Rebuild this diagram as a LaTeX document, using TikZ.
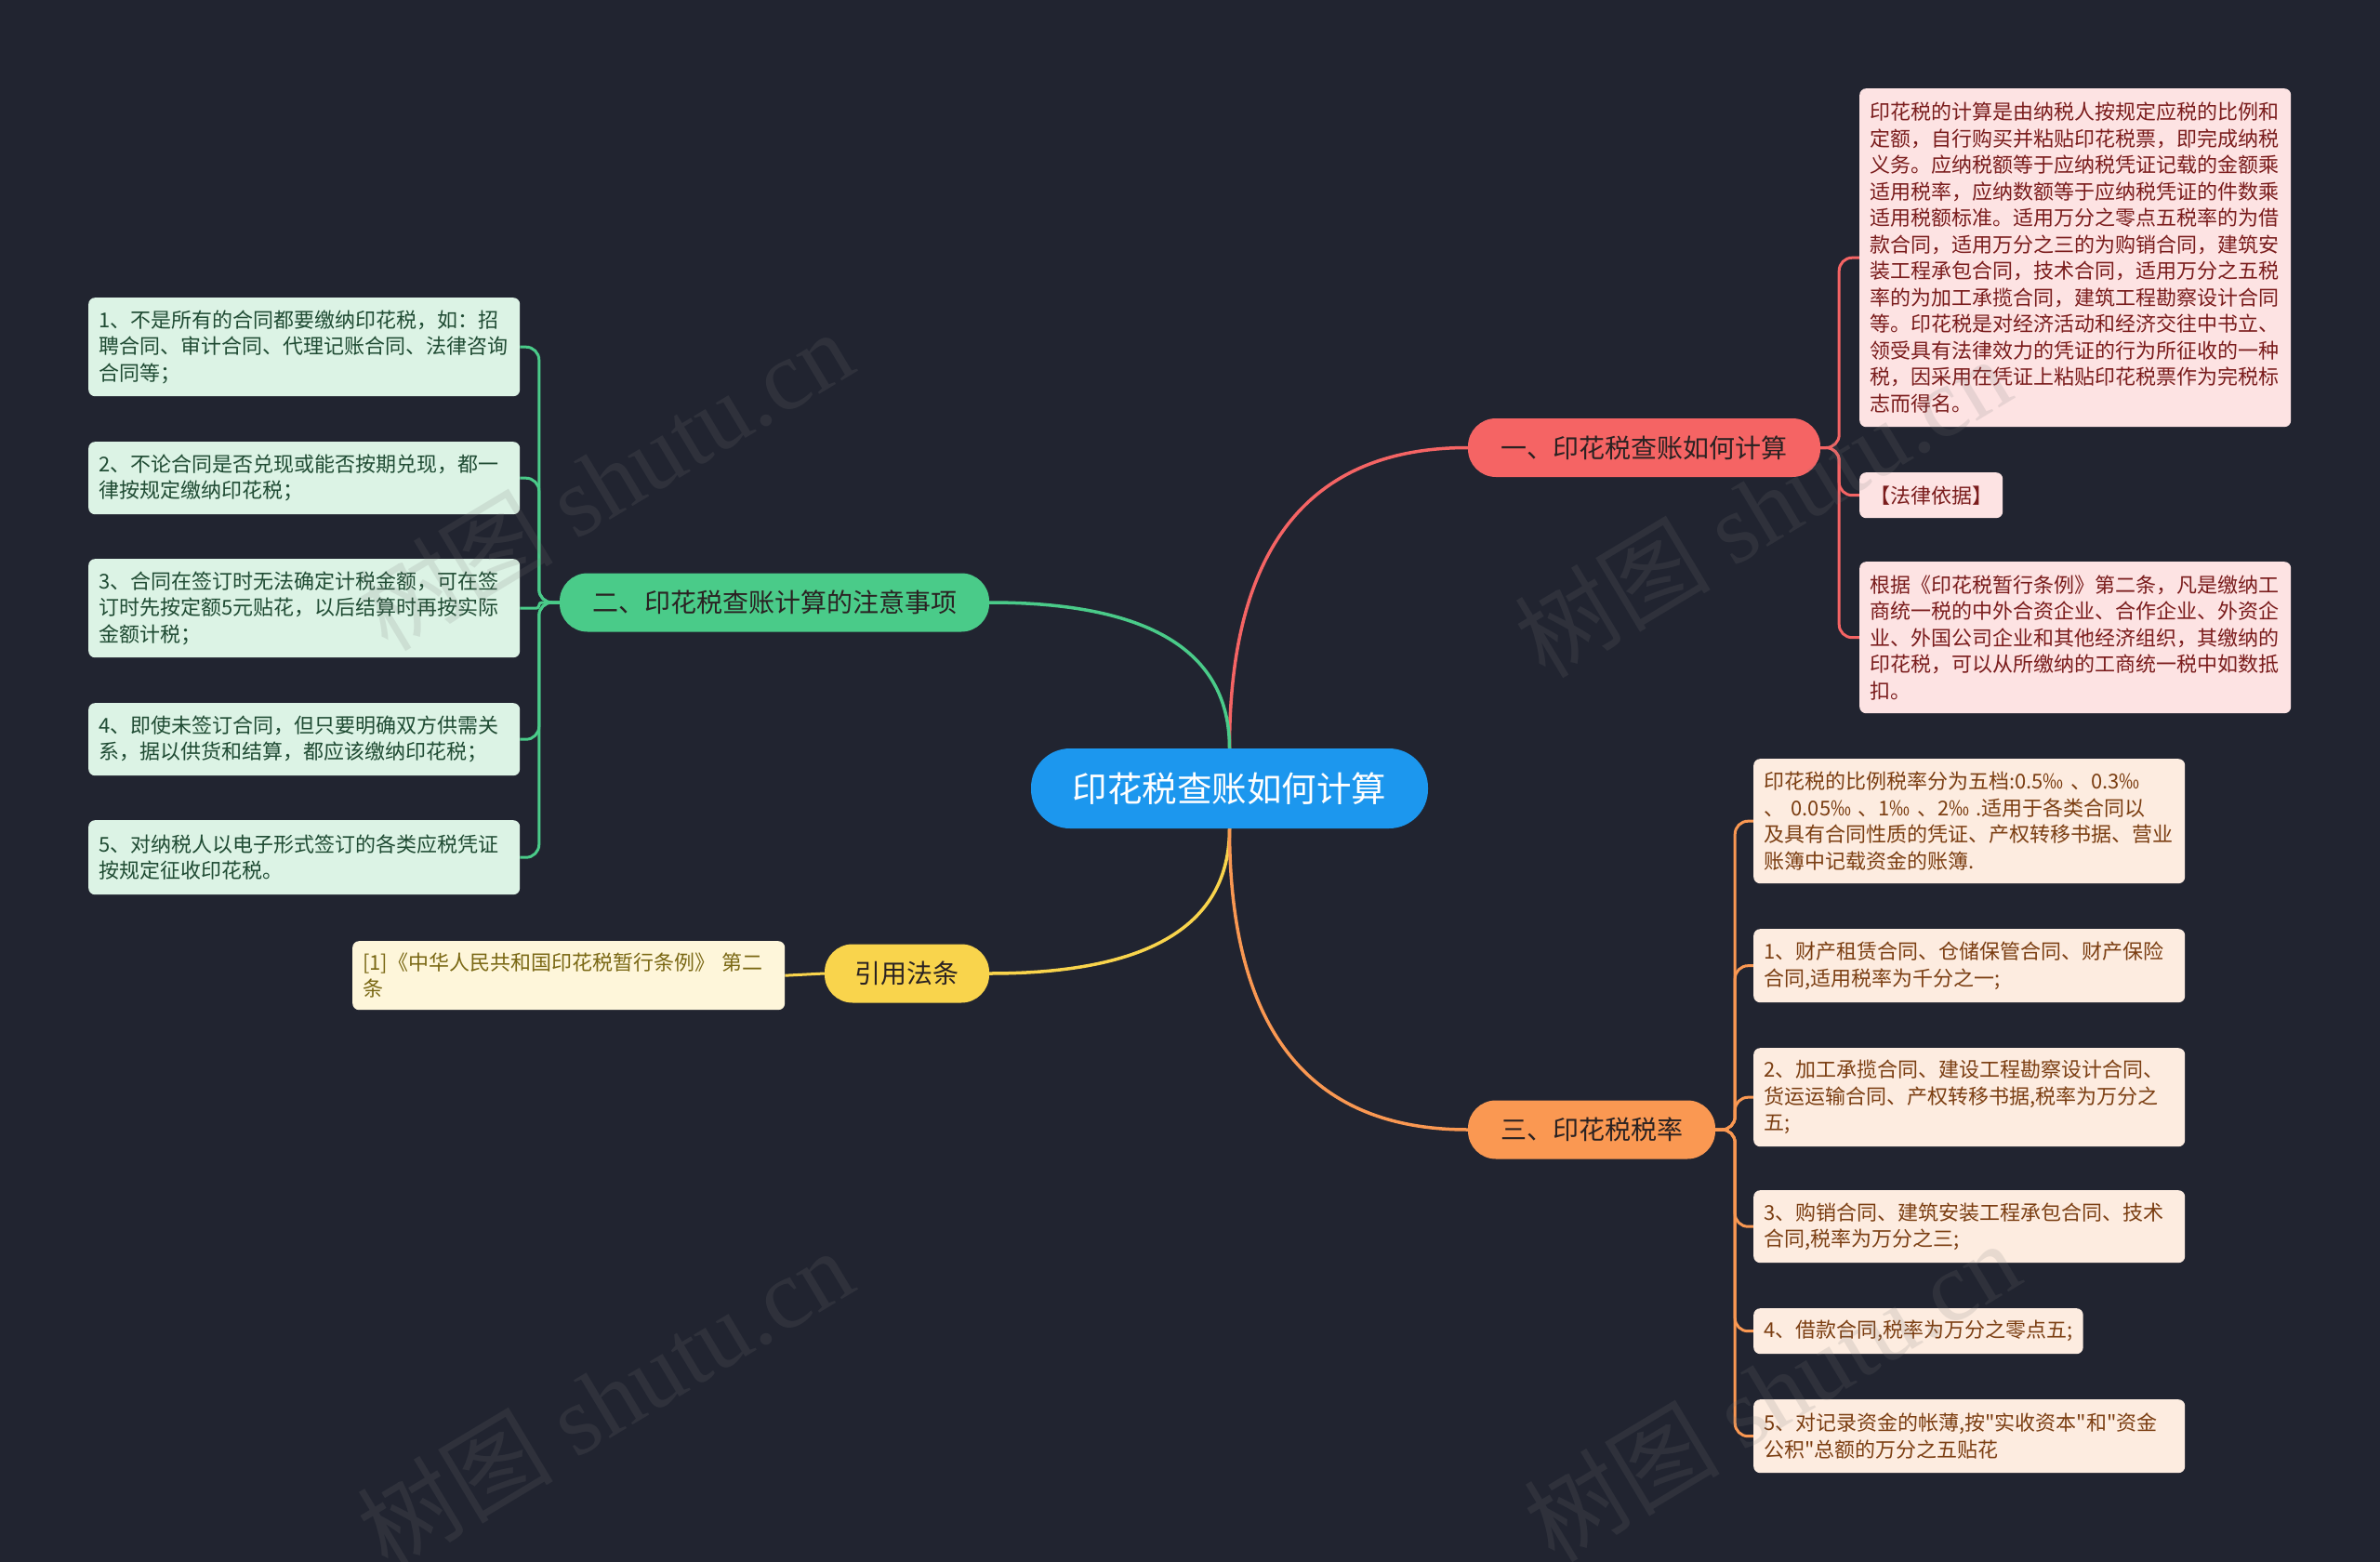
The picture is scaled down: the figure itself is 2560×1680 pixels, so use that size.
\documentclass[tikz,border=0pt]{standalone}
\usepackage{fontspec}
\setmainfont{Noto Sans CJK SC}
\newfontfamily\cjkf{Noto Sans CJK SC}
\newfontfamily\wmserif{Liberation Serif}
\usetikzlibrary{calc}
\definecolor{bgc}{HTML}{212430}
\definecolor{rootblue}{HTML}{1C97EE}
\definecolor{cred}{HTML}{F56464}
\definecolor{cgreen}{HTML}{4ACB89}
\definecolor{cyellow}{HTML}{F9D44C}
\definecolor{corange}{HTML}{FA9852}
\definecolor{rleaf}{HTML}{FDE3E3}
\definecolor{rtext}{HTML}{7A1C1C}
\definecolor{oleaf}{HTML}{FDECE0}
\definecolor{otext}{HTML}{7B3E12}
\definecolor{gleaf}{HTML}{DCF3E5}
\definecolor{gtext}{HTML}{1F4B33}
\definecolor{yleaf}{HTML}{FEF6DA}
\definecolor{ytext}{HTML}{7A6814}
\definecolor{btext}{HTML}{2A2222}
\definecolor{wmc}{HTML}{7A7A7A}
\pgfdeclarelayer{back}
\pgfsetlayers{back,main}
\begin{document}
\begin{tikzpicture}[x=1pt,y=-1pt,
  pill/.style={rectangle, rounded corners=30pt, minimum height=63pt, inner sep=0pt,
    font=\cjkf\fontsize{28pt}{34pt}\selectfont, text=btext},
  leaf/.style={rectangle, rounded corners=7pt, anchor=north west, align=left,
    inner xsep=11pt, inner ysep=0pt, font=\cjkf\fontsize{22pt}{28.5pt}\selectfont},
  wide/.style={text width=442pt},
  redleaf/.style={leaf, fill=rleaf, text=rtext},
  orangeleaf/.style={leaf, fill=oleaf, text=otext},
  greenleaf/.style={leaf, fill=gleaf, text=gtext},
  yellowleaf/.style={leaf, fill=yleaf, text=ytext},
  mainline/.style={line width=3.5pt},
  conn/.style={line width=3pt, rounded corners=14pt},
  wm/.style={text=wmc, opacity=0.16, font=\cjkf\fontsize{106pt}{110pt}\selectfont}
]
\begin{pgfonlayer}{back}
\fill[bgc] (0,0) rectangle (2560,1680);
\end{pgfonlayer}
\useasboundingbox (0,0) rectangle (2560,1680);

% central and branch nodes
\node[pill, fill=rootblue, minimum width=427pt, minimum height=86pt, rounded corners=42pt,
  font=\cjkf\fontsize{37.5pt}{44pt}\selectfont, text=white] (root) at (1322.5,848) {印花税查账如何计算};
\node[pill, fill=cred, minimum width=379pt] (R) at (1768.5,481.5) {一、印花税查账如何计算};
\node[pill, fill=cgreen, minimum width=462pt] (G) at (833,648) {二、印花税查账计算的注意事项};
\node[pill, fill=cyellow, minimum width=177pt] (Y) at (975.5,1047) {引用法条};
\node[pill, fill=corange, minimum width=266pt] (O) at (1712,1215) {三、印花税税率};

% red leaves
\node[redleaf, wide, minimum height=364pt] (R1) at (2000,95) {印花税的计算是由纳税人按规定应税的比例和\\定额，自行购买并粘贴印花税票，即完成纳税\\义务。应纳税额等于应纳税凭证记载的金额乘\\适用税率，应纳数额等于应纳税凭证的件数乘\\适用税额标准。适用万分之零点五税率的为借\\款合同，适用万分之三的为购销合同，建筑安\\装工程承包合同，技术合同，适用万分之五税\\率的为加工承揽合同，建筑工程勘察设计合同\\等。印花税是对经济活动和经济交往中书立、\\领受具有法律效力的凭证的行为所征收的一种\\税，因采用在凭证上粘贴印花税票作为完税标\\志而得名。};
\node[redleaf, minimum height=49pt] (R2) at (2000,508) {【法律依据】};
\node[redleaf, wide, minimum height=163pt] (R3) at (2000,604) {根据《印花税暂行条例》第二条，凡是缴纳工\\商统一税的中外合资企业、合作企业、外资企\\业、外国公司企业和其他经济组织，其缴纳的\\印花税，可以从所缴纳的工商统一税中如数抵\\扣。};

% orange leaves
\node[orangeleaf, wide, minimum height=134pt] (O0) at (1886,816) {印花税的比例税率分为五档:0.5‰ 、0.3‰\\、 0.05‰ 、1‰ 、2‰ .适用于各类合同以\\及具有合同性质的凭证、产权转移书据、营业\\账簿中记载资金的账簿.};
\node[orangeleaf, wide, minimum height=79pt] (O1) at (1886,999) {1、财产租赁合同、仓储保管合同、财产保险\\合同,适用税率为千分之一;};
\node[orangeleaf, wide, minimum height=106pt] (O2) at (1886,1127) {2、加工承揽合同、建设工程勘察设计合同、\\货运运输合同、产权转移书据,税率为万分之\\五;};
\node[orangeleaf, wide, minimum height=78pt] (O3) at (1886,1280) {3、购销合同、建筑安装工程承包合同、技术\\合同,税率为万分之三;};
\node[orangeleaf, minimum height=49pt] (O4) at (1886,1407) {4、借款合同,税率为万分之零点五;};
\node[orangeleaf, wide, minimum height=79pt] (O5) at (1886,1505) {5、对记录资金的帐薄,按"实收资本"和"资金\\公积"总额的万分之五贴花};

% green leaves
\node[greenleaf, wide, minimum height=106pt] (G1) at (95,320) {1、不是所有的合同都要缴纳印花税，如：招\\聘合同、审计合同、代理记账合同、法律咨询\\合同等；};
\node[greenleaf, wide, minimum height=78pt] (G2) at (95,475) {2、不论合同是否兑现或能否按期兑现，都一\\律按规定缴纳印花税；};
\node[greenleaf, wide, minimum height=106pt] (G3) at (95,601) {3、合同在签订时无法确定计税金额，可在签\\订时先按定额5元贴花，以后结算时再按实际\\金额计税；};
\node[greenleaf, wide, minimum height=78pt] (G4) at (95,756) {4、即使未签订合同，但只要明确双方供需关\\系，据以供货和结算，都应该缴纳印花税；};
\node[greenleaf, wide, minimum height=80pt] (G5) at (95,882) {5、对纳税人以电子形式签订的各类应税凭证\\按规定征收印花税。};

% yellow leaf
\node[yellowleaf, text width=443pt, minimum height=74pt] (Y1) at (379,1012) {[1]《中华人民共和国印花税暂行条例》 第二\\条};

\begin{pgfonlayer}{back}
% main connectors
\draw[mainline, draw=cred] (root.north) .. controls ($(root.north)!0.6667!(root.north |- R.west)$) and ($(R.west)!0.6667!(root.north |- R.west)$) .. (R.west);
\draw[mainline, draw=cgreen] (root.north) .. controls ($(root.north)!0.6667!(root.north |- G.east)$) and ($(G.east)!0.6667!(root.north |- G.east)$) .. (G.east);
\draw[mainline, draw=cyellow] (root.south) .. controls ($(root.south)!0.6667!(root.south |- Y.east)$) and ($(Y.east)!0.6667!(root.south |- Y.east)$) .. (Y.east);
\draw[mainline, draw=corange] (root.south) .. controls ($(root.south)!0.6667!(root.south |- O.west)$) and ($(O.west)!0.6667!(root.south |- O.west)$) .. (O.west);
% leaf connectors
\foreach \n in {R1,R2,R3} \draw[conn, draw=cred] (R.east) -- ++(20,0) |- (\n.west);
\foreach \n in {O0,O1,O2,O3,O4,O5} \draw[conn, draw=corange] (O.east) -- ++(21,0) |- (\n.west);
\foreach \n in {G1,G2,G4,G5} \draw[conn, draw=cgreen] (G.west) -- ++(-22,0) |- (\n.east);
\draw[conn, rounded corners=3pt, draw=cgreen] (G.west) -- ++(-22,0) |- (G3.east);
\draw[conn, draw=cyellow] (Y.west) -- (Y1.east);
\end{pgfonlayer}

% watermarks
\node[wm, rotate=31] (wm1) at (650,516) {树图 {\wmserif shutu.cn}};
\node[wm, rotate=31] (wm2) at (1895,545) {树图 {\wmserif shutu.cn}};
\node[wm, rotate=31] (wm3) at (650,1504) {树图 {\wmserif shutu.cn}};
\node[wm, rotate=31] (wm4) at (1905,1496) {树图 {\wmserif shutu.cn}};
\end{tikzpicture}
\end{document}
